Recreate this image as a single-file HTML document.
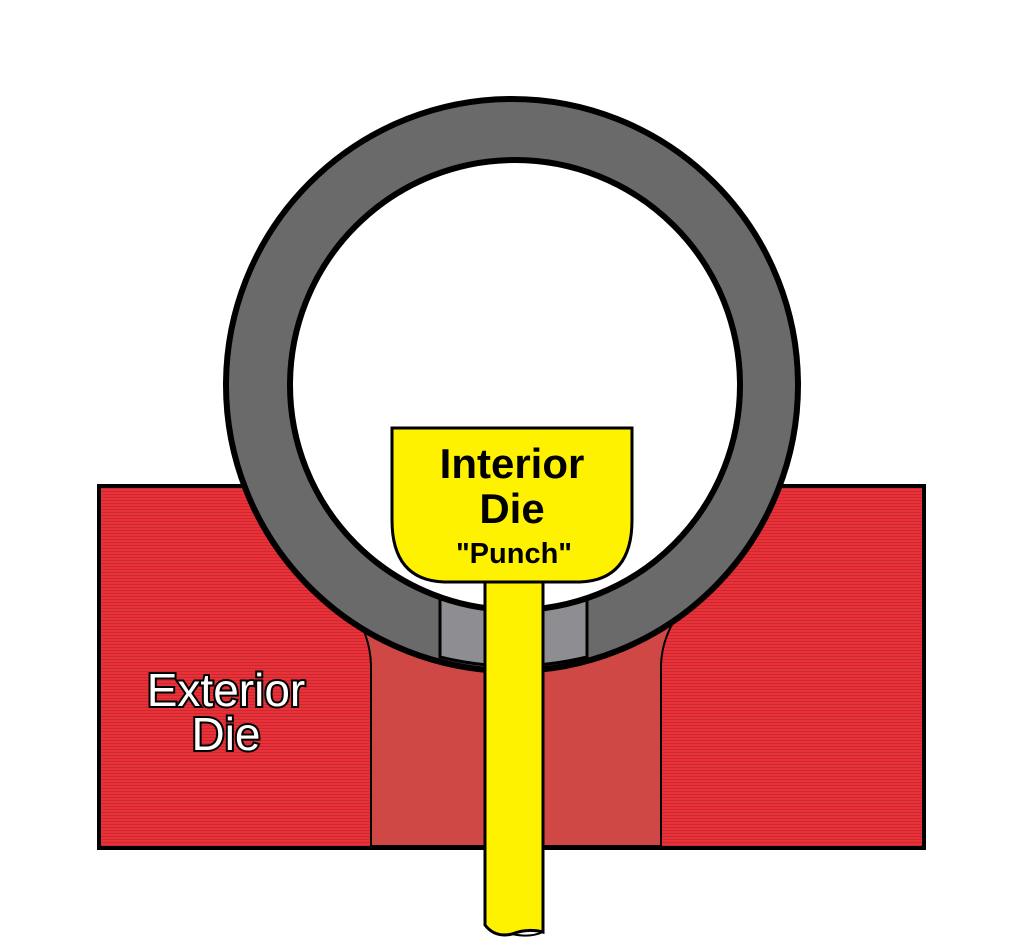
<!DOCTYPE html>
<html><head><style>body{margin:0;background:#fff}svg{display:block}</style></head>
<body>
<svg width="1024" height="945" viewBox="0 0 1024 945" xmlns="http://www.w3.org/2000/svg">
<defs>
<pattern id="stripes" width="4" height="3" patternUnits="userSpaceOnUse">
<rect width="4" height="3" fill="#ea3039"/><rect y="2" width="4" height="1" fill="#c82a30"/>
</pattern>
</defs>
<rect x="99" y="486" width="825" height="362" fill="url(#stripes)" stroke="#000" stroke-width="4"/>
<path d="M345,600 Q370,630 371,665 L371,846 L661,846 L661,665 Q662,630 690,600 Z" fill="#d04846" stroke="#000" stroke-width="2"/>
<circle cx="512" cy="385" r="286" fill="#6a6a6a" stroke="#000" stroke-width="6"/>
<path d="M440,598 L587,598 L587,657 Q512,675 440,657 Z" fill="#8e8e92" stroke="#000" stroke-width="3"/>
<circle cx="515" cy="385" r="225" fill="#fff" stroke="#000" stroke-width="6"/>
<path d="M485,575 L485,925 Q495,938 512,934 Q528,928 543,932 L543,575 Z" fill="#fff200" stroke="#000" stroke-width="3"/>
<path d="M512,934 Q530,938 543,932" fill="none" stroke="#000" stroke-width="2"/>
<path d="M392,428 L632,428 L632,520 Q632,580 580,582 L444,582 Q392,580 392,520 Z" fill="#fff200" stroke="#000" stroke-width="3"/>
<g font-family="Liberation Sans, sans-serif" text-anchor="middle">
<text x="512" y="478" font-size="42" font-weight="bold">Interior</text>
<text x="512" y="523" font-size="42" font-weight="bold">Die</text>
<text x="514" y="563" font-size="29" font-weight="bold">"Punch"</text>
<text x="226" y="706" font-size="46" fill="#fff" stroke="#000" stroke-width="4" paint-order="stroke">Exterior</text>
<text x="226" y="750" font-size="46" fill="#fff" stroke="#000" stroke-width="4" paint-order="stroke">Die</text>
</g>
</svg>
</body></html>
